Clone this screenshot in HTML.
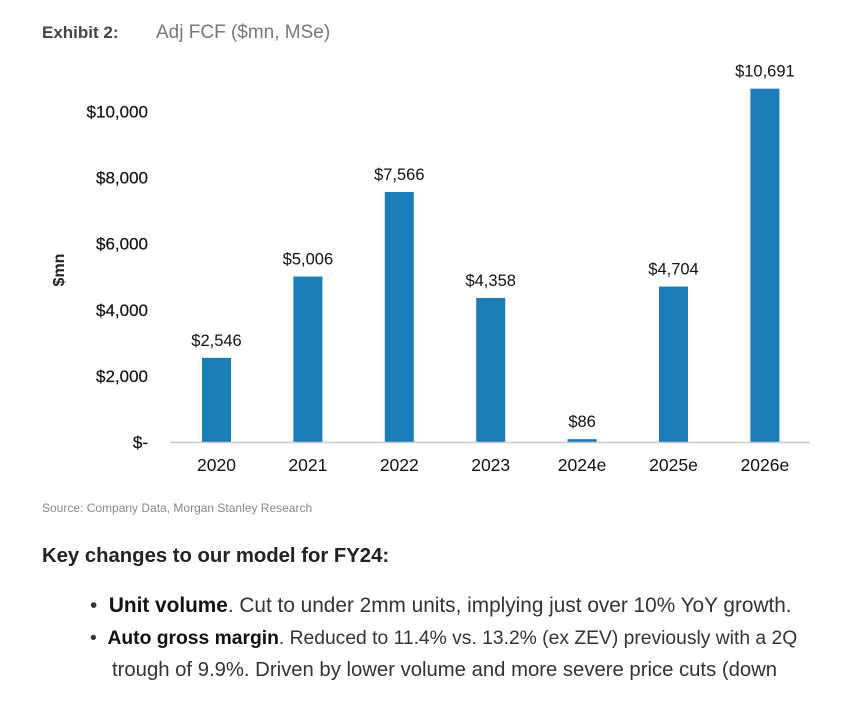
<!DOCTYPE html>
<html><head><meta charset="utf-8"><style>
body{margin:0;background:#fff;width:845px;height:709px;overflow:hidden;font-family:"Liberation Sans",sans-serif;position:relative}
.t{position:absolute;white-space:nowrap}
</style></head><body>
<div class="t" style="left:42px;top:23px;font-size:17px;font-weight:bold;color:#444">Exhibit 2:</div>
<div class="t" style="left:156px;top:22px;font-size:19px;color:#777">Adj FCF ($mn, MSe)</div>
<svg id="chart" width="845" height="500" style="position:absolute;left:0;top:0"></svg>
<div class="t" style="left:42px;top:501px;font-size:12px;color:#888">Source: Company Data, Morgan Stanley Research</div>
<div class="t" style="left:42px;top:545px;font-size:20.3px;font-weight:bold;color:#222">Key changes to our model for FY24:</div>
<div class="t" style="left:90px;top:594px;font-size:20.8px;color:#333">•&nbsp;&nbsp;<b style="color:#111">Unit volume</b>. Cut to under 2mm units, implying just over 10% YoY growth.</div>
<div class="t" style="left:90px;top:628px;font-size:19.3px;color:#333">•&nbsp;&nbsp;<b style="color:#111">Auto gross margin</b>. Reduced to 11.4% vs. 13.2% (ex ZEV) previously with a 2Q</div>
<div class="t" style="left:112px;top:659px;font-size:20.3px;color:#333">trough of 9.9%. Driven by lower volume and more severe price cuts (down</div>
<script>
const categories=["2020","2021","2022","2023","2024e","2025e","2026e"];
const values=[2546,5006,7566,4358,86,4704,10691];
const valueLabels=["$2,546","$5,006","$7,566","$4,358","$86","$4,704","$10,691"];
const ticks=[0,2000,4000,6000,8000,10000];
const tickLabels=["$-","$2,000","$4,000","$6,000","$8,000","$10,000"];
const NS="http://www.w3.org/2000/svg";
const svg=document.getElementById('chart');
const y0=442,ppu=330.5/10000;
const y=v=>y0-v*ppu;
const x=i=>216.5+i*91.4;
function mk(tag,attrs,text){const e=document.createElementNS(NS,tag);for(const k in attrs)e.setAttribute(k,attrs[k]);if(text!==undefined)e.textContent=text;svg.appendChild(e);return e;}
ticks.forEach((t,i)=>{const e=mk('text',{x:148,y:y(t)+6,'text-anchor':'end','font-size':17,fill:'#111','font-family':'Liberation Sans','stroke':'#111','stroke-width':0.2},tickLabels[i]);

});
const yt=mk('text',{x:0,y:0,transform:'translate(64,270) rotate(-90)','text-anchor':'middle','font-size':16,'font-weight':'bold',fill:'#222','font-family':'Liberation Sans'},'$mn');


values.forEach((v,i)=>{
const h=Math.max(v*ppu,2);
const b=mk('rect',{x:x(i)-14.5,y:y0-h,width:29,height:h,fill:'#1a7db8'});


const l=mk('text',{x:x(i),y:y0-h-12,'text-anchor':'middle','font-size':16.5,fill:'#111','font-family':'Liberation Sans'},valueLabels[i]);


const c=mk('text',{x:x(i),y:y0+29,'text-anchor':'middle','font-size':17.5,fill:'#111','font-family':'Liberation Sans'},categories[i]);


});
const ax=mk('line',{x1:170,x2:810,y1:y0+0.5,y2:y0+0.5,stroke:'#ccc','stroke-width':1.5});


</script>
</body></html>
